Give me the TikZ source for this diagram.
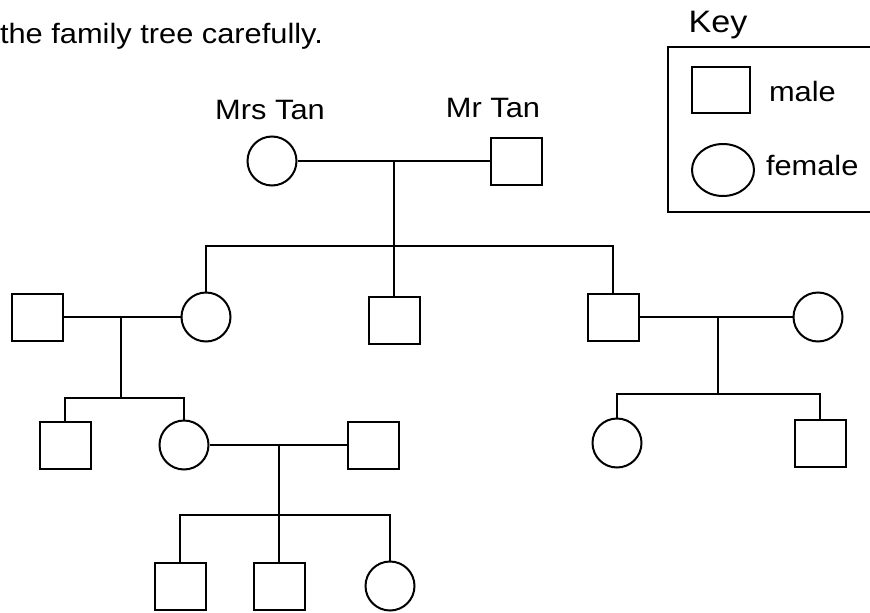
\documentclass[tikz,border=0pt]{standalone}
\usepackage{fontspec}
\setmainfont[FakeStretch=1.1]{Liberation Sans}
\usetikzlibrary{shapes.geometric}

\tikzset{
  male/.style={draw, rectangle, inner sep=0pt, minimum width=51pt, minimum height=47pt},
  female/.style={draw, circle, inner sep=0pt, minimum size=49pt},
  lbl/.style={inner sep=0pt, anchor=base}
}

\begin{document}
\begin{tikzpicture}[line width=2pt, font=\fontsize{28}{30}\selectfont]
  \useasboundingbox (0pt,0pt) rectangle (870pt,-613pt);

  \node[lbl, anchor=base west] (title) at (-1pt,-43pt) {the family tree carefully.};

  % key
  \node[lbl, font=\fontsize{31}{33}\selectfont] (keytitle) at (718pt,-32pt) {Key};
  \draw (668pt,-47pt) rectangle (900pt,-212pt);
  \node[male, minimum width=58pt, minimum height=46pt] (keym) at (721pt,-90pt) {};
  \node[draw, ellipse, inner sep=0pt, minimum width=62pt, minimum height=52pt] (keyf) at (723pt,-170pt) {};
  \node[lbl, anchor=base west] (keymtxt) at (768pt,-101pt) {male};
  \node[lbl, anchor=base west] (keyftxt) at (765pt,-175pt) {female};

  % grandparents
  \node[female] (mrstan) at (272pt,-161pt) {};
  \node[male]   (mrtan)  at (516pt,-161pt) {};
  \node[lbl] (mrstanlbl) at (270pt,-119pt) {Mrs Tan};
  \node[lbl] (mrtanlbl)  at (493pt,-117pt) {Mr Tan};
  \coordinate (tanmid) at (394pt,-161pt);
  \coordinate (tansib) at (394pt,-246pt);

  % second generation
  \node[male]   (husb1) at ( 37pt,-317pt) {};
  \node[female] (dau1)  at (206pt,-317pt) {};
  \node[male]   (son2)  at (394pt,-320pt) {};
  \node[male]   (son3)  at (613pt,-317pt) {};
  \node[female] (wife3) at (818pt,-317pt) {};

  \draw (mrstan) -- (mrtan);
  \draw (tanmid) -- (tansib) -- (son2);
  \draw (dau1) |- (tansib) -| (son3);

  % left branch
  \coordinate (leftmid) at (121pt,-317pt);
  \coordinate (leftsib) at (121pt,-398pt);
  \node[male]   (son4) at ( 65pt,-445pt) {};
  \node[female] (dau2) at (184pt,-445pt) {};
  \node[male]   (husb2) at (373pt,-445pt) {};
  \draw (husb1) -- (dau1);
  \draw (leftmid) -- (leftsib);
  \draw (son4) |- (leftsib) -| (dau2);

  \coordinate (lowmid) at (279pt,-445pt);
  \coordinate (lowsib) at (279pt,-515pt);
  \node[male]   (gson1) at (180pt,-586pt) {};
  \node[male]   (gson2) at (279pt,-586pt) {};
  \node[female] (gdau1) at (390pt,-586pt) {};
  \draw (dau2) -- (husb2);
  \draw (lowmid) -- (lowsib) -- (gson2);
  \draw (gson1) |- (lowsib) -| (gdau1);

  % right branch
  \coordinate (rightmid) at (718pt,-317pt);
  \coordinate (rightsib) at (718pt,-394pt);
  \node[female] (dau3) at (617pt,-443pt) {};
  \node[male]   (son5) at (820pt,-443pt) {};
  \draw (son3) -- (wife3);
  \draw (rightmid) -- (rightsib);
  \draw (dau3) |- (rightsib) -| (son5);
\end{tikzpicture}
\end{document}
